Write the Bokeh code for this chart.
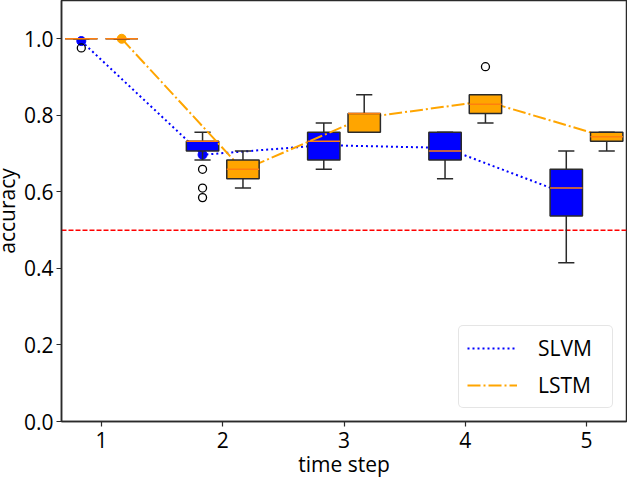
import math
from bokeh.plotting import figure
from bokeh.models import Range1d, FixedTicker, PrintfTickFormatter, Legend, LegendItem, Span
from bokeh.embed import file_html
from bokeh.resources import INLINE

# ---------------- data ----------------
steps = [1, 2, 3, 4, 5]
y_ticks = [0.0, 0.2, 0.4, 0.6, 0.8, 1.0]

slvm_low = [1.000, 0.683, 0.659, 0.634, 0.415]
slvm_q1 = [1.000, 0.707, 0.683, 0.683, 0.537]
slvm_median = [1.000, 0.732, 0.732, 0.707, 0.610]
slvm_q3 = [1.000, 0.732, 0.756, 0.756, 0.659]
slvm_high = [1.000, 0.756, 0.780, 0.756, 0.707]
slvm_mean = [0.994, 0.697, 0.722, 0.715, 0.595]
slvm_outlier_step = [1, 2, 2, 2]
slvm_outlier_value = [0.976, 0.659, 0.610, 0.585]

lstm_low = [1.000, 0.610, 0.756, 0.780, 0.707]
lstm_q1 = [1.000, 0.634, 0.756, 0.805, 0.732]
lstm_median = [1.000, 0.659, 0.805, 0.829, 0.744]
lstm_q3 = [1.000, 0.683, 0.805, 0.854, 0.756]
lstm_high = [1.000, 0.707, 0.854, 0.854, 0.756]
lstm_mean = [1.000, 0.657, 0.794, 0.837, 0.743]
lstm_outlier_step = [4]
lstm_outlier_value = [0.927]

chance_level = 0.5

# ---------------- layout / style ----------------
FONT = "Open Sans"
FS = "21px"
SHIFT = 16                      # canvas starts left of the page so the y title sits at the edge
W, H = 627 + SHIFT, 480
BL, BR, BT, BB = 61 + SHIFT, 1, 0, 59
X0, X1 = 0.67, 5.33
Y0, Y1 = 0.0, 1.1
OFF = 1.0 / 6.0
BOX_W = 0.267
CAP_W = BOX_W / 2
EDGE = "#2a2a2a"
LW = 1.5
MED = "#ff7f0e"
BLUE = "#0000ff"
ORANGE = "#ffa500"

p = figure(width=W, height=H, output_backend="svg", toolbar_location=None,
           x_range=Range1d(X0, X1), y_range=Range1d(Y0, Y1), title=None,
           min_border_left=BL, min_border_right=BR, min_border_top=BT, min_border_bottom=BB)
p.margin = (0, 0, 0, -SHIFT)
p.xgrid.visible = False
p.ygrid.visible = False
p.outline_line_color = EDGE
p.outline_line_width = 1.5
p.background_fill_color = "white"
p.border_fill_color = "white"

p.xaxis.ticker = FixedTicker(ticks=steps)
p.yaxis.ticker = FixedTicker(ticks=y_ticks)
p.yaxis.formatter = PrintfTickFormatter(format="%.1f")
for ax in (p.xaxis, p.yaxis):
    ax.axis_line_color = EDGE
    ax.axis_line_width = 1.5
    ax.major_tick_line_color = EDGE
    ax.major_tick_line_width = 1.2
    ax.major_tick_out = 5
    ax.major_tick_in = 0
    ax.minor_tick_line_color = None
    ax.major_label_text_font = FONT
    ax.major_label_text_font_size = FS
    ax.major_label_text_color = "black"
    ax.axis_label_text_font = FONT
    ax.axis_label_text_font_size = FS
    ax.axis_label_text_color = "black"
    ax.axis_label_text_font_style = "normal"

p.xaxis.axis_label = "time step"
p.yaxis.axis_label = "accuracy"
p.xaxis.major_label_standoff = 5
p.yaxis.major_label_standoff = 3
p.xaxis.axis_label_standoff = -1
p.yaxis.axis_label_standoff = 0

# reference line
p.add_layout(Span(location=chance_level, dimension="width", line_color="red",
                  line_dash="5 2", line_width=1.5, level="underlay"))


def draw_series(pos, mean, low, q1, med, q3, high, out_step, out_val, color, dash, off):
    xs = [s + off for s in pos]
    line = p.line(xs, mean, line_color=color, line_dash=dash, line_width=2)
    p.scatter(xs, mean, marker="circle", size=9, fill_color=color, line_color=color)
    # whiskers
    p.segment(xs, q3, xs, high, line_color=EDGE, line_width=LW)
    p.segment(xs, low, xs, q1, line_color=EDGE, line_width=LW)
    # caps
    p.segment([x - CAP_W / 2 for x in xs], high, [x + CAP_W / 2 for x in xs], high,
              line_color=EDGE, line_width=LW)
    p.segment([x - CAP_W / 2 for x in xs], low, [x + CAP_W / 2 for x in xs], low,
              line_color=EDGE, line_width=LW)
    # boxes
    p.vbar(x=xs, bottom=q1, top=q3, width=BOX_W, fill_color=color,
           line_color=EDGE, line_width=LW)
    # medians
    p.segment([x - BOX_W / 2 for x in xs], med, [x + BOX_W / 2 for x in xs], med,
              line_color=MED, line_width=LW)
    # outliers
    p.scatter([s + off for s in out_step], out_val, marker="circle", size=8,
              fill_color=None, line_color="black", line_width=1.3)
    return line


slvm_line = draw_series(steps, slvm_mean, slvm_low, slvm_q1, slvm_median, slvm_q3, slvm_high,
                        slvm_outlier_step, slvm_outlier_value, BLUE, "2 3", -OFF)
lstm_line = draw_series(steps, lstm_mean, lstm_low, lstm_q1, lstm_median, lstm_q3, lstm_high,
                        lstm_outlier_step, lstm_outlier_value, ORANGE, "13 3 2 3", OFF)

legend = Legend(items=[LegendItem(label="SLVM", renderers=[slvm_line]),
                       LegendItem(label="LSTM", renderers=[lstm_line])],
                location="bottom_right", margin=13, padding=8, spacing=9,
                glyph_width=50, glyph_height=20, label_standoff=21, label_width=66,
                label_text_font=FONT, label_text_font_size=FS, label_text_color="black",
                border_line_color="#cccccc", border_line_width=1,
                background_fill_color="white", background_fill_alpha=0.8)
if "border_radius" in legend.properties():
    legend.border_radius = 5
p.add_layout(legend)

open("out.html", "w").write(file_html(p, INLINE))
